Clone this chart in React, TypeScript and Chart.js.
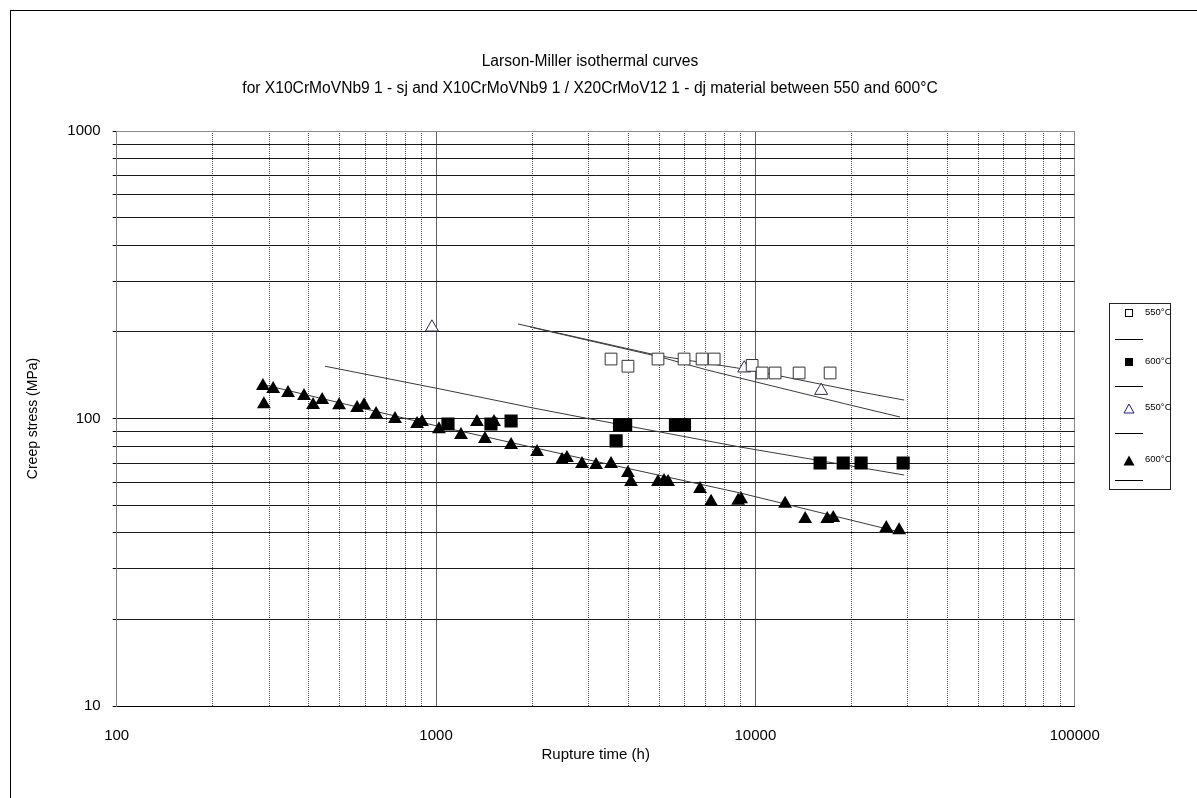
import React, { useEffect, useRef } from 'react';
import { Chart, registerables } from 'chart.js';

Chart.register(...registerables);

const FONT = '"Liberation Sans", Arial, sans-serif';

const titleLines = [
  'Larson-Miller isothermal curves',
  'for X10CrMoVNb9 1 - sj and X10CrMoVNb9 1 / X20CrMoV12 1 - dj material between 550 and 600°C',
];
const xAxisTitle = 'Rupture time (h)';
const yAxisTitle = 'Creep stress (MPa)';

const xGridValues = [
  100, 200, 300, 400, 500, 600, 700, 800, 900,
  1000, 2000, 3000, 4000, 5000, 6000, 7000, 8000, 9000,
  10000, 20000, 30000, 40000, 50000, 60000, 70000, 80000, 90000, 100000,
];
const xLabelValues = [100, 1000, 10000, 100000];
const yGridValues = [
  10, 20, 30, 40, 50, 60, 70, 80, 90,
  100, 200, 300, 400, 500, 600, 700, 800, 900, 1000,
];
const yLabelValues = [10, 100, 1000];

const legendLabels = ['550°C', '600°C', '550°C', '600°C'];

// 550°C, open squares
const sq550Time = [3532, 3990, 4955, 5980, 6810, 7430, 9770, 10500, 11530, 13710, 17140];
const sq550Stress = [161, 152, 161, 161, 161, 161, 153, 144, 144, 144, 144];

// 600°C, filled squares
const sq600Time = [1090, 1486, 1718, 3664, 3755, 3924, 5620, 5998, 15950, 18840, 21430, 29030];
const sq600Stress = [95.7, 95.7, 98, 83.6, 95, 95, 95, 95, 70, 70, 70, 70];

// 550°C, open triangles
const tri550Time = [971, 9230, 16070];
const tri550Stress = [207.6, 149.6, 125];

// 600°C, filled triangles
const tri600Time = [
  287, 309, 289, 344, 386, 412, 440, 497, 566, 595, 649, 744, 872, 904, 1021, 1197,
  1343, 1423, 1519, 1718, 2072, 2481, 2570, 2865, 3170, 3532, 3990, 4080, 4955, 5175,
  5330, 6710, 7265, 8830, 9020, 12390, 14320, 16790, 17540, 25700, 28200,
];
const tri600Stress = [
  129.7, 126.6, 112.2, 122.6, 119.7, 111.4, 116, 111.2, 108.7, 111.2, 103.7, 99.6, 95.6, 97.2, 91.8, 87.7,
  97.2, 84.9, 97.2, 80.9, 76.4, 71.7, 72.9, 69.5, 68.9, 69.5, 64.6, 60.1, 60.1, 60.6,
  60.1, 56.9, 51.3, 51.7, 52.4, 50.5, 44.7, 44.7, 45.1, 41.6, 40.9,
];

// Larson-Miller isothermal curves
const fitSq550Time = [1806, 5035, 9625, 19800, 29240];
const fitSq550Stress = [213.2, 165, 147.5, 125.6, 115.9];
const fitTri550Time = [1969, 5035, 7060, 19800, 28390];
const fitTri550Stress = [208.1, 163.7, 147.5, 111.4, 101.2];
const fitSq600Time = [449, 1029, 2013, 2825, 8950, 29240];
const fitSq600Stress = [152, 126.7, 108.8, 101.2, 79.6, 63.6];
const fitTri600Time = [291, 1007, 2825, 8950, 29030];
const fitTri600Stress = [130.8, 94.2, 72.9, 55.1, 40.0];

const pts = (xs: number[], ys: number[]) => xs.map((x, i) => ({ x, y: ys[i] }));

function LegendMarker({ kind }: { kind: number }) {
  if (kind === 0)
    return (
      <svg width="10" height="10"><rect x="1.5" y="1.5" width="7" height="7" fill="#fff" stroke="#000" strokeWidth="1" /></svg>
    );
  if (kind === 1)
    return (
      <svg width="10" height="10"><rect x="1" y="1" width="8" height="8" fill="#000" /></svg>
    );
  if (kind === 2)
    return (
      <svg width="12" height="11"><polygon points="6,1 11,10 1,10" fill="#fff" stroke="#1c1c9a" strokeWidth="1" /></svg>
    );
  return (
    <svg width="12" height="11"><polygon points="6,0.5 11.5,10.5 0.5,10.5" fill="#000" /></svg>
  );
}

export default function App() {
  const canvasRef = useRef<HTMLCanvasElement | null>(null);

  useEffect(() => {
    const canvas = canvasRef.current;
    if (!canvas) return;
    const markerSet = (label: string, data: any, style: string, r: number, fill: string, stroke: string, bw: number) => ({
      label,
      data,
      pointStyle: style,
      pointRadius: r,
      backgroundColor: fill,
      borderColor: stroke,
      borderWidth: bw,
      order: 1,
    });
    const lineSet = (data: any) => ({
      label: '',
      data,
      showLine: true,
      pointRadius: 0,
      borderColor: '#3a3a3a',
      borderWidth: 1,
      order: 2,
    });
    const chart = new Chart(canvas, {
      type: 'scatter',
      data: {
        datasets: [
          markerSet(legendLabels[0], pts(sq550Time, sq550Stress), 'rect', 8.3, '#ffffff', '#333333', 1),
          markerSet(legendLabels[1], pts(sq600Time, sq600Stress), 'rect', 9.3, '#000000', '#000000', 0),
          markerSet(legendLabels[2], pts(tri550Time, tri550Stress), 'triangle', 7.5, '#ffffff', '#2a2a55', 1),
          markerSet(legendLabels[3], pts(tri600Time, tri600Stress), 'triangle', 8, '#000000', '#000000', 0),
          lineSet(pts(fitSq550Time, fitSq550Stress)),
          lineSet(pts(fitSq600Time, fitSq600Stress)),
          lineSet(pts(fitTri550Time, fitTri550Stress)),
          lineSet(pts(fitTri600Time, fitTri600Stress)),
        ],
      },
      options: {
        animation: false,
        responsive: false,
        maintainAspectRatio: false,
        layout: { padding: 0 },
        plugins: {
          legend: { display: false },
          tooltip: { enabled: false },
          title: {
            display: true,
            text: titleLines,
            color: '#000',
            font: { family: FONT, size: 15.6, weight: 'normal', lineHeight: 1.75 },
            padding: { top: 37, bottom: 28.4 },
          },
        },
        scales: {
          x: {
            type: 'logarithmic',
            position: 'bottom',
            min: 100,
            max: 100000,
            afterBuildTicks: (s: any) => {
              s.ticks = xGridValues.map((v) => ({ value: v }));
            },
            afterFit: (s: any) => {
              s.height = 91;
            },
            ticks: {
              autoSkip: false,
              maxRotation: 0,
              minRotation: 0,
              padding: 21,
              color: '#000',
              font: { family: FONT, size: 15 },
              callback: (v: any) => (xLabelValues.includes(Number(v)) ? String(v) : ''),
            },
            grid: {
              drawTicks: false,
              lineWidth: 1,
              color: (ctx: any) => {
                const v = ctx.tick ? ctx.tick.value : 0;
                if (v === 100000) return '#8a8a8a';
                if (v === 1000 || v === 10000) return '#606060';
                return '#505050';
              },
            },
            border: {
              color: '#000',
              width: 1,
              dash: (ctx: any) => {
                const v = ctx.tick ? ctx.tick.value : 0;
                return xLabelValues.includes(v) ? [] : [1, 1];
              },
            },
            title: {
              display: true,
              text: xAxisTitle,
              color: '#000',
              font: { family: FONT, size: 15 },
              padding: { top: 0, bottom: 33 },
            },
          },
          y: {
            type: 'logarithmic',
            position: 'left',
            min: 10,
            max: 1000,
            afterBuildTicks: (s: any) => {
              s.ticks = yGridValues.map((v) => ({ value: v }));
            },
            afterFit: (s: any) => {
              s.width = 105.7;
            },
            ticks: {
              autoSkip: false,
              padding: 12,
              color: '#000',
              font: { family: FONT, size: 15 },
              callback: (v: any) => (yLabelValues.includes(Number(v)) ? String(v) : ''),
            },
            grid: {
              drawTicks: true,
              tickLength: 4,
              tickColor: '#000',
              lineWidth: 1,
              color: (ctx: any) => {
                const v = ctx.tick ? ctx.tick.value : 0;
                return v === 1000 ? '#8a8a8a' : '#1a1a1a';
              },
            },
            border: { color: '#808080', width: 1 },
            title: {
              display: true,
              text: yAxisTitle,
              color: '#000',
              font: { family: FONT, size: 14 },
              padding: { top: 13.6, bottom: 0 },
            },
          },
          yRight: {
            type: 'linear',
            axis: 'y',
            position: 'right',
            display: true,
            afterFit: (s: any) => {
              s.width = 94.3;
            },
            grid: { display: false, drawOnChartArea: false, drawTicks: false },
            ticks: { display: false },
            border: { display: false },
          },
        },
      },
    } as any);
    return () => chart.destroy();
  }, []);

  const markerY = [312, 361, 407, 459];
  const lineY = [339, 386, 433, 480];
  const legLeft = 1109;
  const legTop = 303;

  return (
    <div>
      <div
        style={{
          position: 'absolute',
          left: 10,
          top: 10,
          width: 1187,
          height: 788,
          boxSizing: 'border-box',
          borderLeft: '1px solid #000',
          borderTop: '1px solid #000',
          background: '#fff',
        }}
      >
        <canvas ref={canvasRef} width={1158} height={786} style={{ display: 'block', position: 'absolute', left: 0, top: 0 }} />
      </div>
      <div
        style={{
          position: 'absolute',
          left: legLeft,
          top: legTop,
          width: 62,
          height: 187,
          boxSizing: 'border-box',
          border: '1px solid #222',
          background: '#fff',
          fontFamily: FONT,
          fontSize: 9.5,
          color: '#000',
        }}
      >
        {legendLabels.map((lab, i) => (
          <React.Fragment key={i}>
            <div
              style={{
                position: 'absolute',
                left: 1129 - legLeft - 6 - 1,
                top: markerY[i] - legTop - 6,
                width: 12,
                height: 12,
                display: 'flex',
                alignItems: 'center',
                justifyContent: 'center',
              }}
            >
              <LegendMarker kind={i} />
            </div>
            <div
              style={{
                position: 'absolute',
                left: 1145 - legLeft - 1,
                top: markerY[i] - legTop - 7,
                lineHeight: '12px',
                whiteSpace: 'nowrap',
                color: '#000',
              }}
            >
              {lab}
            </div>
            <div
              style={{
                position: 'absolute',
                left: 1115 - legLeft - 1,
                top: lineY[i] - legTop - 1,
                width: 28,
                height: 0,
                borderTop: '1px solid #000',
              }}
            />
          </React.Fragment>
        ))}
      </div>
    </div>
  );
}
